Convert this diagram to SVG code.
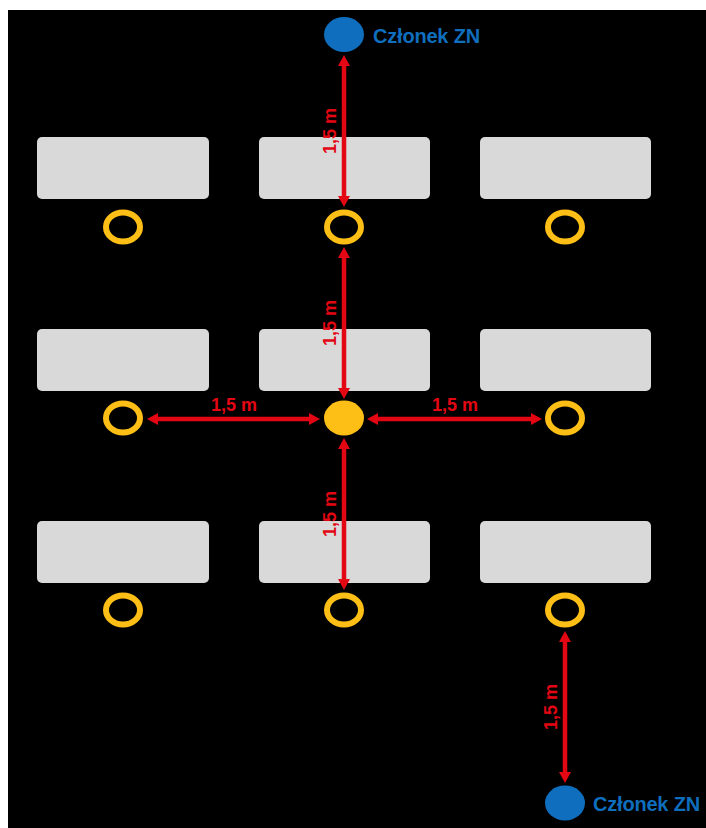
<svg xmlns="http://www.w3.org/2000/svg" width="706" height="828" viewBox="0 0 706 828">
<defs>
<style>
.bg{fill:#000}
.table{fill:#D9D9D9}
.ring{fill:none;stroke:#FDBE16;stroke-width:6}
.center{fill:#FDBE16}
.member{fill:#0F6EBD}
.mtext{font-family:"Liberation Sans",Arial,sans-serif;font-weight:bold;font-size:20px;fill:#0F6EBD;letter-spacing:-0.2px}
.dim{stroke:#E30613;stroke-width:4.5;fill:none;marker-start:url(#ah);marker-end:url(#ah)}
.lbl{font-family:"Liberation Sans",Arial,sans-serif;font-weight:bold;font-size:18px;fill:#E30613;text-anchor:middle}
</style>
<marker id="ah" viewBox="0 -7 12 14" refX="1" refY="0" markerWidth="12" markerHeight="14" markerUnits="userSpaceOnUse" orient="auto-start-reverse">
<path d="M0,-6 L11,0 L0,6 z" fill="#E30613"/>
</marker>
</defs>
<rect class="bg" x="8" y="10" width="698" height="818"/>
<g id="tables">
<rect id="t11" class="table" x="37" y="137" width="172" height="62" rx="5"/>
<rect id="t12" class="table" x="259" y="137" width="171" height="62" rx="5"/>
<rect id="t13" class="table" x="480" y="137" width="171" height="62" rx="5"/>
<rect id="t21" class="table" x="37" y="329" width="172" height="62" rx="5"/>
<rect id="t22" class="table" x="259" y="329" width="171" height="62" rx="5"/>
<rect id="t23" class="table" x="480" y="329" width="171" height="62" rx="5"/>
<rect id="t31" class="table" x="37" y="521" width="172" height="62" rx="5"/>
<rect id="t32" class="table" x="259" y="521" width="171" height="62" rx="5"/>
<rect id="t33" class="table" x="480" y="521" width="171" height="62" rx="5"/>
</g>
<g id="seats">
<ellipse id="s11" class="ring" cx="123" cy="227" rx="17" ry="14.5"/>
<ellipse id="s12" class="ring" cx="344" cy="227" rx="17" ry="14.5"/>
<ellipse id="s13" class="ring" cx="565" cy="227" rx="17" ry="14.5"/>
<ellipse id="s21" class="ring" cx="123" cy="418" rx="17" ry="14.5"/>
<ellipse id="s22" class="center" cx="344" cy="418" rx="20" ry="17.5"/>
<ellipse id="s23" class="ring" cx="565" cy="418" rx="17" ry="14.5"/>
<ellipse id="s31" class="ring" cx="123" cy="610" rx="17" ry="14.5"/>
<ellipse id="s32" class="ring" cx="344" cy="610" rx="17" ry="14.5"/>
<ellipse id="s33" class="ring" cx="565" cy="610" rx="17" ry="14.5"/>
</g>
<g id="member-top">
<ellipse class="member" cx="344" cy="34.5" rx="20" ry="17.5"/>
<text class="mtext" x="373" y="43">Członek ZN</text>
</g>
<g id="member-bottom">
<ellipse class="member" cx="565" cy="803" rx="20" ry="17.5"/>
<text class="mtext" x="593" y="811">Członek ZN</text>
</g>
<g id="connectors">
<line class="dim" x1="344" y1="65" x2="344" y2="197"/>
<line class="dim" x1="344" y1="257" x2="344" y2="389"/>
<line class="dim" x1="344" y1="448" x2="344" y2="580"/>
<line class="dim" x1="565" y1="641" x2="565" y2="773"/>
<line class="dim" x1="157" y1="419" x2="310" y2="419"/>
<line class="dim" x1="377" y1="419" x2="532" y2="419"/>
<text class="lbl" transform="translate(336,131) rotate(-90)">1,5 m</text>
<text class="lbl" transform="translate(336,323) rotate(-90)">1,5 m</text>
<text class="lbl" transform="translate(336,514) rotate(-90)">1,5 m</text>
<text class="lbl" transform="translate(557,707) rotate(-90)">1,5 m</text>
<text class="lbl" x="234" y="411">1,5 m</text>
<text class="lbl" x="455" y="411">1,5 m</text>
</g>
</svg>
